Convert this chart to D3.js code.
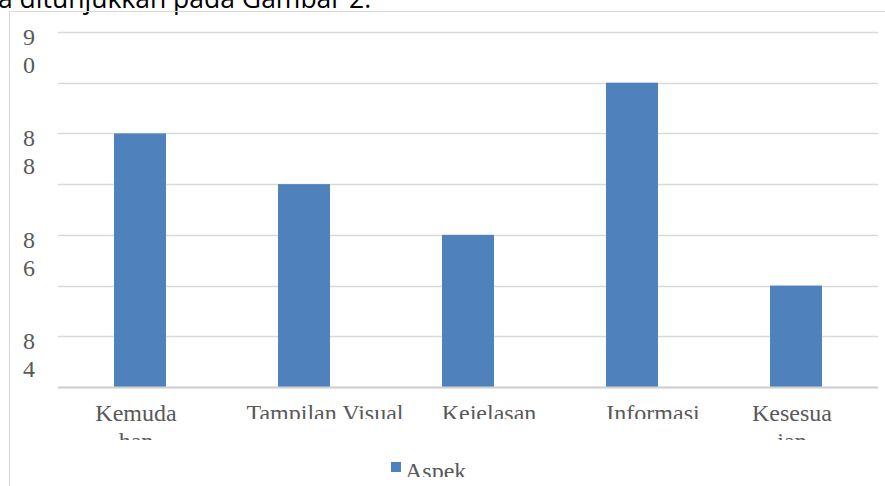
<!DOCTYPE html>
<html>
<head>
<meta charset="utf-8">
<script src="https://cdn.jsdelivr.net/npm/d3@7"></script>
<style>
  html, body { margin: 0; padding: 0; background: #fff; }
  svg { display: block; }
</style>
</head>
<body>
<script>
// ---- data ----
const categories = ["Kemudahan", "Tampilan Visual", "Kejelasan", "Informasi", "Kesesuaian"];
const labelLines = [["Kemuda", "han"], ["Tampilan Visual"], ["Kejelasan"], ["Informasi"], ["Kesesua", "ian"]];
const values = [88, 87, 86, 89, 85];
const gridValues = [83, 84, 85, 86, 87, 88, 89, 90];
const tickLabels = ["90", "88", "86", "84"];
const seriesName = "Aspek";
const captionText = "a ditunjukkan pada Gambar 2.";

// ---- layout ----
const W = 885, H = 486;
const svg = d3.select("body").append("svg").attr("width", W).attr("height", H);
const defs = svg.append("defs");
const serif = "'Liberation Serif', 'DejaVu Serif', serif";
const textColor = "#595959";
const gridColor = "#d9d9d9";
const barColor = "#4f81bd";

// caption text cut by the top of the picture
svg.append("text")
  .attr("x", -2).attr("y", 8)
  .attr("font-family", "'Open Sans', sans-serif")
  .attr("font-size", 26.5)
  .attr("fill", "#000")
  .text(captionText);

// frame (left + top border)
svg.append("path")
  .attr("d", "M9.5,486 V11.5 H885")
  .attr("fill", "none")
  .attr("stroke", gridColor)
  .attr("stroke-width", 1.2);

const x = d3.scaleBand().domain(categories).range([58, 878]).paddingInner(0.683).paddingOuter(0.3415);
const y = d3.scaleLinear().domain([83, 90]).range([387, 32]);

// gridlines
svg.append("g").selectAll("line").data(gridValues).join("line")
  .attr("x1", 58).attr("x2", 878)
  .attr("y1", d => Math.round(y(d)) + 0.5).attr("y2", d => Math.round(y(d)) + 0.5)
  .attr("stroke", gridColor).attr("stroke-width", 1.6);

// bars
svg.append("g").selectAll("rect").data(categories).join("rect")
  .attr("x", d => x(d))
  .attr("width", x.bandwidth())
  .attr("y", (d, i) => y(values[i]))
  .attr("height", (d, i) => y(83) - y(values[i]))
  .attr("fill", barColor);

// axis baseline
svg.append("line")
  .attr("x1", 58).attr("x2", 878)
  .attr("y1", y(83) + 0.5).attr("y2", y(83) + 0.5)
  .attr("stroke", "#d0d0d0").attr("stroke-width", 1.8);

// y tick labels (wrapped one digit per line)
const yt = svg.append("g");
tickLabels.forEach(t => {
  const v = +t;
  const txt = yt.append("text")
    .attr("font-family", serif).attr("font-size", 24).attr("fill", textColor)
    .attr("text-anchor", "middle");
  t.split("").forEach((ch, k) => {
    txt.append("tspan").attr("x", 29).attr("y", y(v) + 13 + k * 28).text(ch);
  });
});

// x labels, clipped (two-line labels show part of the 2nd line; one-line labels cut at baseline)
defs.append("clipPath").attr("id", "xclip2")
  .append("rect").attr("x", 0).attr("y", 390).attr("width", W).attr("height", 50);
defs.append("clipPath").attr("id", "xclip1")
  .append("rect").attr("x", 0).attr("y", 390).attr("width", W).attr("height", 29);
const xl = svg.append("g");
categories.forEach((c, i) => {
  const lines = labelLines[i];
  const single = lines.length === 1;
  const cx = x(c) + x.bandwidth() / 2 + (single ? 21 : -4);
  const txt = xl.append("text")
    .attr("clip-path", single ? "url(#xclip1)" : "url(#xclip2)")
    .attr("font-family", serif).attr("font-size", 24).attr("fill", textColor)
    .attr("text-anchor", "middle");
  lines.forEach((ln, k) => {
    txt.append("tspan").attr("x", cx).attr("y", 421 + k * 28).text(ln);
  });
});

// legend, clipped
defs.append("clipPath").attr("id", "lclip")
  .append("rect").attr("x", 0).attr("y", 450).attr("width", W).attr("height", 27);
const lg = svg.append("g").attr("clip-path", "url(#lclip)");
lg.append("rect").attr("x", 391).attr("y", 462).attr("width", 10).attr("height", 10).attr("fill", barColor);
lg.append("text").attr("x", 405).attr("y", 479)
  .attr("font-family", serif).attr("font-size", 24).attr("fill", textColor)
  .text(seriesName);
</script>
</body>
</html>
